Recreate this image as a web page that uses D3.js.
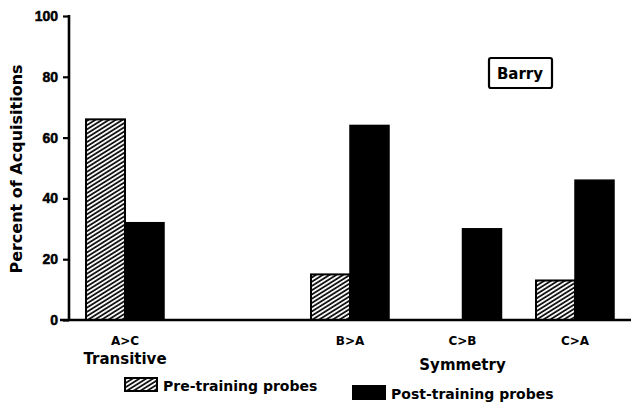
<!DOCTYPE html>
<html>
<head>
<meta charset="utf-8">
<script src="https://cdn.jsdelivr.net/npm/d3@7"></script>
<style>
body { margin: 0; background: #fff; }
text { font-family: "DejaVu Sans", sans-serif; font-weight: bold; fill: #000; }
</style>
</head>
<body>
<script>
// data
var categories = ["A>C", "gap", "B>A", "C>B", "C>A"];
var groupLabels = {"A>C": "Transitive", "C>B": "Symmetry"};
var preTraining = [66, null, 15, 0, 13];
var postTraining = [32, null, 64, 30, 46];
var yTicks = [0, 20, 40, 60, 80, 100];
var seriesNames = ["Pre-training probes", "Post-training probes"];

var width = 631, height = 410;

var svg = d3.select("body").append("svg")
    .attr("width", width)
    .attr("height", height);

var defs = svg.append("defs");
var pat = defs.append("pattern")
    .attr("id", "hatch")
    .attr("patternUnits", "userSpaceOnUse")
    .attr("width", 8)
    .attr("height", 3.6)
    .attr("patternTransform", "rotate(-32)");
pat.append("rect").attr("width", 8).attr("height", 3.6).attr("fill", "#fff");
pat.append("line")
    .attr("x1", 0).attr("y1", 1).attr("x2", 8).attr("y2", 1)
    .attr("stroke", "#000").attr("stroke-width", 1.7);

var y = d3.scaleLinear().domain([0, 100]).range([320, 16]);
var x = d3.scalePoint().domain(categories).range([125, 575]);
var barW = 39;

// y axis
var yAxis = svg.append("g")
    .attr("transform", "translate(69,0)")
    .call(d3.axisLeft(y).tickValues(yTicks).tickSize(6).tickPadding(5));
yAxis.select(".domain").remove();
yAxis.selectAll("line").attr("stroke", "#000").attr("stroke-width", 2.2);
yAxis.selectAll("text")
    .style("font-size", "14px")
    .style("font-family", "'Liberation Sans', Arial, sans-serif")
    .style("font-weight", "bold")
    .attr("stroke", "#000")
    .attr("stroke-width", 0.5);

svg.append("line")
    .attr("x1", 69).attr("x2", 69)
    .attr("y1", y(100) - 1).attr("y2", y(0))
    .attr("stroke", "#000").attr("stroke-width", 2.6);

// bars
var rows = categories.map(function(c, i) {
    return {cat: c, pre: preTraining[i], post: postTraining[i]};
}).filter(function(d) { return d.post !== null; });

svg.selectAll(".pre")
    .data(rows.filter(function(d) { return d.pre > 0; }))
    .enter().append("rect")
    .attr("class", "pre")
    .attr("x", function(d) { return x(d.cat) - barW; })
    .attr("y", function(d) { return y(d.pre); })
    .attr("width", barW)
    .attr("height", function(d) { return y(0) - y(d.pre); })
    .attr("fill", "url(#hatch)")
    .attr("stroke", "#000")
    .attr("stroke-width", 2);

svg.selectAll(".post")
    .data(rows)
    .enter().append("rect")
    .attr("class", "post")
    .attr("x", function(d) { return x(d.cat); })
    .attr("y", function(d) { return y(d.post); })
    .attr("width", barW)
    .attr("height", function(d) { return y(0) - y(d.post); })
    .attr("fill", "#000")
    .attr("stroke", "#000")
    .attr("stroke-width", 1.5);

// baseline
svg.append("line")
    .attr("x1", 60).attr("x2", 631)
    .attr("y1", y(0)).attr("y2", y(0))
    .attr("stroke", "#000").attr("stroke-width", 2.6);

// category labels
svg.selectAll(".cat")
    .data(rows)
    .enter().append("text")
    .attr("class", "cat")
    .attr("x", function(d) { return x(d.cat); })
    .attr("y", 345)
    .attr("text-anchor", "middle")
    .style("font-size", "12px")
    .text(function(d) { return d.cat; });

svg.selectAll(".grp")
    .data(rows.filter(function(d) { return groupLabels[d.cat]; }))
    .enter().append("text")
    .attr("class", "grp")
    .attr("x", function(d) { return x(d.cat); })
    .attr("y", function(d) { return d.cat === "A>C" ? 364 : 370; })
    .attr("text-anchor", "middle")
    .style("font-size", "15px")
    .text(function(d) { return groupLabels[d.cat]; });

// y axis title
svg.append("text")
    .attr("transform", "translate(22,169) rotate(-90)")
    .attr("text-anchor", "middle")
    .style("font-size", "16px")
    .text("Percent of Acquisitions");

// subject box
svg.append("rect")
    .attr("x", 489).attr("y", 58)
    .attr("width", 63).attr("height", 30)
    .attr("rx", 2)
    .attr("fill", "#fff")
    .attr("stroke", "#000").attr("stroke-width", 2.2);
svg.append("text")
    .attr("x", 520).attr("y", 79)
    .attr("text-anchor", "middle")
    .style("font-size", "15px")
    .text("Barry");

// legend
var legend = [
    {name: seriesNames[0], fill: "url(#hatch)", x: 125, y: 378},
    {name: seriesNames[1], fill: "#000", x: 353, y: 386}
];
var lg = svg.selectAll(".legend")
    .data(legend)
    .enter().append("g")
    .attr("class", "legend")
    .attr("transform", function(d) { return "translate(" + d.x + "," + d.y + ")"; });
lg.append("rect")
    .attr("width", 32).attr("height", 13)
    .attr("fill", function(d) { return d.fill; })
    .attr("stroke", "#000").attr("stroke-width", 2);
lg.append("text")
    .attr("x", 38).attr("y", 13)
    .style("font-size", "14px")
    .text(function(d) { return d.name; });
</script>
</body>
</html>
